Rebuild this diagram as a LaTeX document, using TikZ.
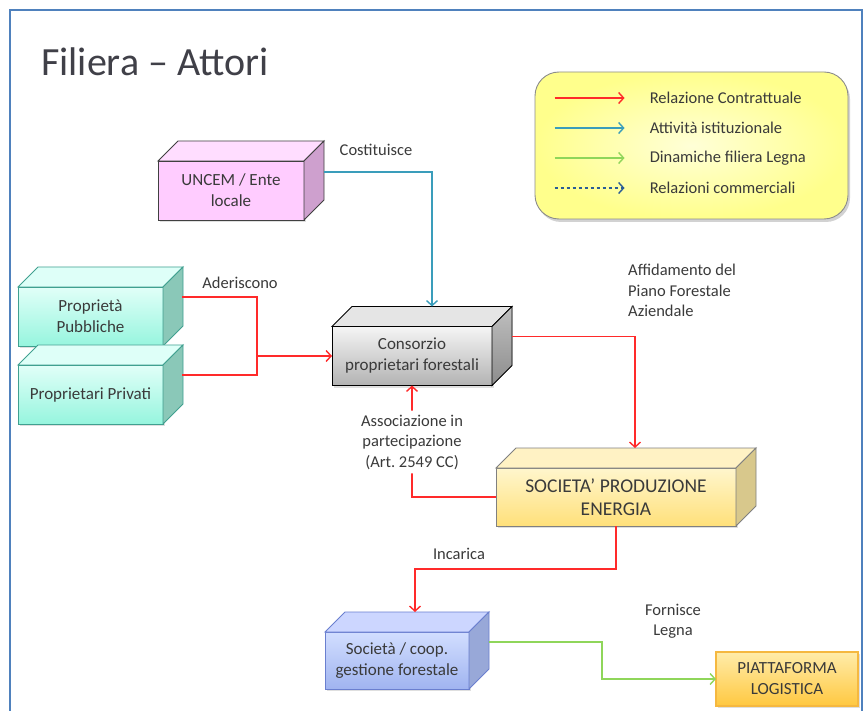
\documentclass[tikz,border=0pt]{standalone}
\usepackage{fontspec}
\setmainfont{Carlito}
\frenchspacing
\usetikzlibrary{calc,arrows.meta,shadows}
\definecolor{frameblue}{HTML}{4F81BD}
\definecolor{cred}{HTML}{FF2A2A}
\definecolor{cblue}{HTML}{3A9DBB}
\definecolor{cgreen}{HTML}{8FD65A}
\definecolor{cdash}{HTML}{2A5C96}
\definecolor{txt}{HTML}{3A3A3A}
\tikzset{
  tip/.style={-{Straight Barb[length=5pt,width=11pt]}},
  conn/.style={line width=1.4pt},
  redc/.style={conn,draw=cred},
  bluec/.style={conn,draw=cblue},
  greenc/.style={conn,draw=cgreen},
  lbl/.style={text=txt,font=\fontsize{16.5}{20.5}\selectfont,align=center,inner sep=1pt},
  boxtext/.style={text=txt,font=\fontsize{17}{21}\selectfont,align=center,inner sep=2pt,outer sep=0pt,line width=0.9pt},
  bigtext/.style={font=\fontsize{19.5}{23}\selectfont},
  % pink
  pinkfront/.style={boxtext,draw=black!75,fill={rgb,255:red,255;green,204;blue,255}},
  pinktop/.style={draw=black!75,line width=0.9pt,fill={rgb,255:red,255;green,221;blue,255}},
  pinkside/.style={draw=black!75,line width=0.9pt,fill={rgb,255:red,206;green,160;blue,206}},
  % teal
  tealfront/.style={boxtext,draw={rgb,255:red,64;green,160;blue,144},top color={rgb,255:red,225;green,255;blue,248},bottom color={rgb,255:red,150;green,245;blue,222}},
  tealtop/.style={draw={rgb,255:red,64;green,160;blue,144},line width=0.9pt,fill={rgb,255:red,222;green,255;blue,248}},
  tealside/.style={draw={rgb,255:red,64;green,160;blue,144},line width=0.9pt,fill={rgb,255:red,138;green,200;blue,184}},
  % gray
  grayfront/.style={boxtext,draw=black,top color=black!4,bottom color=black!30},
  graytop/.style={draw=black,line width=0.9pt,fill=black!10},
  grayside/.style={draw=black,line width=0.9pt,top color=black!25,bottom color=black!45},
  % yellow
  yelfront/.style={boxtext,bigtext,draw=black!50,top color={rgb,255:red,255;green,246;blue,205},bottom color={rgb,255:red,255;green,224;blue,122}},
  yeltop/.style={draw=black!50,line width=0.9pt,fill={rgb,255:red,255;green,242;blue,196}},
  yelside/.style={draw=black!50,line width=0.9pt,fill={rgb,255:red,216;green,200;blue,140}},
  % blue
  bluefront/.style={boxtext,draw={rgb,255:red,106;green,127;blue,207},top color={rgb,255:red,210;green,222;blue,255},bottom color={rgb,255:red,160;green,180;blue,240}},
  bluetop/.style={draw={rgb,255:red,106;green,127;blue,207},line width=0.9pt,fill={rgb,255:red,204;green,214;blue,255}},
  blueside/.style={draw={rgb,255:red,106;green,127;blue,207},line width=0.9pt,fill={rgb,255:red,152;green,168;blue,216}},
}
% name, cx, cy, w, h, style prefix, text
\newcommand{\cubenode}[7]{%
  \node[#6front,minimum width=#4,minimum height=#5,drop shadow={opacity=0.25,shadow xshift=2pt,shadow yshift=-2pt}] (#1) at (#2,#3) {#7};
  \filldraw[#6top] (#1.north west) -- ++(20,-20) -- ($(#1.north east)+(20,-20)$) -- (#1.north east) -- cycle;
  \filldraw[#6side] (#1.north east) -- ++(20,-20) -- ($(#1.south east)+(20,-20)$) -- (#1.south east) -- cycle;
}
\begin{document}
\begin{tikzpicture}[x=1pt,y=-1pt]
\useasboundingbox (0,0) rectangle (865,711);
\fill[white] (0,0) rectangle (865,711);
% frame
\draw[frameblue,line width=1.8pt] (10,715) -- (10,10) -- (862,10) -- (862,715);
% title
\node[anchor=base west,inner sep=0pt,text={rgb,255:red,64;green,64;blue,72},font=\fontsize{40}{44}\selectfont] (title) at (41,76) {Filiera – Attori};
% legend
\node[draw=black!45,line width=0.9pt,rounded corners=24pt,minimum width=313,minimum height=147,
  inner color={rgb,255:red,255;green,255;blue,215},outer color={rgb,255:red,255;green,255;blue,140},
  drop shadow={opacity=0.35,shadow xshift=2pt,shadow yshift=-3pt}] (legend) at (691.5,145.5) {};
\foreach \yy/\nm in {98/la,128/lb,158/lc,188/ld}{
  \coordinate (\nm s) at ($(legend.west)+(20,\yy-145.5)$);
  \coordinate (\nm e) at ($(legend.west)+(90,\yy-145.5)$);
}
\draw[redc,tip] (las) -- (lae);
\draw[bluec,tip] (lbs) -- (lbe);
\draw[greenc,tip] (lcs) -- (lce);
\draw[conn,draw=cdash,dashed,tip] (lds) -- (lde);
\node[lbl,anchor=west] (lt1) at ($(las)+(94,0)$) {Relazione Contrattuale};
\node[lbl,anchor=west] (lt2) at ($(lbs)+(94,0)$) {Attività istituzionale};
\node[lbl,anchor=west] (lt3) at ($(lcs)+(94,0)$) {Dinamiche filiera Legna};
\node[lbl,anchor=west] (lt4) at ($(lds)+(94,0)$) {Relazioni commerciali};
% boxes
\cubenode{uncem}{231}{190.5}{146}{59}{pink}{UNCEM / Ente\\locale}
\cubenode{pub}{90.5}{316.5}{145}{59}{teal}{Proprietà\\Pubbliche}
\cubenode{priv}{90.5}{394.5}{145}{59}{teal}{Proprietari Privati}
\cubenode{cons}{412}{356}{160}{59}{gray}{Consorzio\\proprietari forestali}
\cubenode{soc}{616}{497}{240}{58}{yel}{SOCIETA’ PRODUZIONE\\ENERGIA}
\cubenode{coop}{397}{660.5}{144}{57}{blue}{Società / coop.\\gestione forestale}
\node[boxtext,draw={rgb,255:red,245;green,184;blue,64},line width=1.2pt,minimum width=142,minimum height=54,
  top color={rgb,255:red,255;green,236;blue,170},bottom color={rgb,255:red,255;green,200;blue,64},
  drop shadow={opacity=0.25,shadow xshift=2pt,shadow yshift=-2pt}] (piat) at (787,679) {PIATTAFORMA\\LOGISTICA};
% connectors
\draw[bluec,tip] ($(uncem.north east)+(20,11)$) -| ($(cons.north)+(20,-20)$);
\node[lbl] (costit) at (376,150) {Costituisce};
\draw[redc] ($(pub.north east)+(19,10)$) -- (257,297) -- (257,375) -- ($(priv.north east)+(19,10)$);
\coordinate (jn) at (257,356);
\draw[redc,tip] (jn) -- (cons.west);
\node[lbl] (ader) at (240,283) {Aderiscono};
\draw[redc,tip] ($(cons.north east)+(20,10)$) -| ($(soc.north)+(19,-20)$);
\node[lbl,anchor=north west,align=left] (affid) at (627,263) {Affidamento del\\Piano Forestale\\Aziendale};
\draw[redc,tip] (soc.west) -| (cons.south);
\node[lbl,fill=white,rounded corners=8pt,inner sep=4pt] (assoc) at (412,442) {Associazione in\\partecipazione\\(Art. 2549 CC)};
\draw[redc,tip] (soc.south) -- ++(0,43) -| ($(coop.north)+(18,-20)$);
\node[lbl] (inc) at (459,554) {Incarica};
\draw[greenc,tip] ($(coop.north east)+(20,10)$) -- (602,642) |- (piat.west);
\node[lbl] (forn) at (673,621) {Fornisce\\Legna};
\end{tikzpicture}
\end{document}
